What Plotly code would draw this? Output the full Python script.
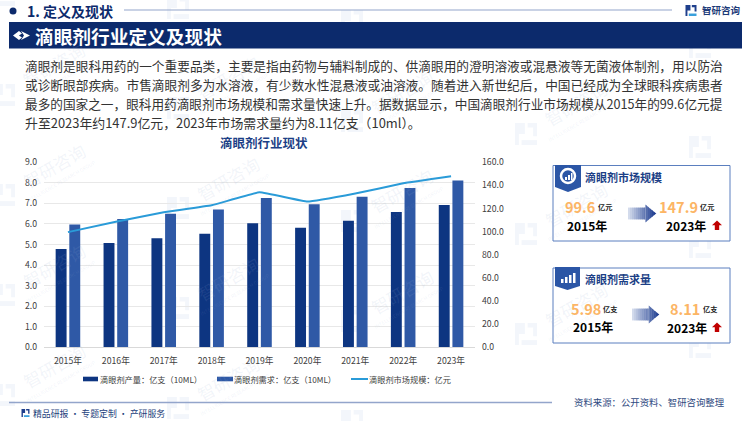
import plotly.graph_objects as go

years = ["2015年", "2016年", "2017年", "2018年", "2019年", "2020年", "2021年", "2022年", "2023年"]
production = [4.78, 5.07, 5.30, 5.53, 6.03, 5.82, 6.16, 6.58, 6.92]
demand = [5.98, 6.24, 6.50, 6.70, 7.26, 6.96, 7.33, 7.75, 8.11]
market = [99.6, 108.6, 116.8, 122.8, 134.0, 126.0, 133.0, 141.8, 147.9]
left_ticks = [0, 1, 2, 3, 4, 5, 6, 7, 8, 9]
right_ticks = [0, 20, 40, 60, 80, 100, 120, 140, 160]
name_production = "滴眼剂产量：亿支（10ML）"
name_demand = "滴眼剂需求：亿支（10ML）"
name_market = "滴眼剂市场规模：亿元"
body_lines = [
    "滴眼剂是眼科用药的一个重要品类，主要是指由药物与辅料制成的、供滴眼用的澄明溶液或混悬液等无菌液体制剂，用以防治",
    "或诊断眼部疾病。市售滴眼剂多为水溶液，有少数水性混悬液或油溶液。随着进入新世纪后，中国已经成为全球眼科疾病患者",
    "最多的国家之一，眼科用药滴眼剂市场规模和需求量快速上升。据数据显示，中国滴眼剂行业市场规模从2015年的99.6亿元提",
    "升至2023年约147.9亿元，2023年市场需求量约为8.11亿支（10ml）。",
]

W, H = 750, 421
FONT = "Noto Sans CJK SC"
NAVY = "#0c2a6c"
BAR1 = "#0d3581"
BAR2 = "#2f59a6"
LINE = "#2a9bd8"
ORANGE = "#fcb565"
FRAME = "#5b7fbf"
RULE = "#93a5cb"


def fx(px):
    return px / W


def fy(py):
    return 1 - py / H


shapes = []
annotations = []


def text(x, y, s, size, color="#333333", bold=False, anchor="left", angle=0, font=FONT):
    annotations.append(dict(
        x=fx(x), y=fy(y), xref="paper", yref="paper", showarrow=False,
        text=f"<b>{s}</b>" if bold else s, xanchor=anchor, yanchor="middle",
        textangle=angle, align="left", borderpad=0, borderwidth=0,
        font=dict(family=font, size=size, color=color),
    ))


def poly(points, color, layer="above", line=None):
    path = "M" + " L".join(f"{fx(x):.5f},{fy(y):.5f}" for x, y in points) + " Z"
    shapes.append(dict(type="path", path=path, xref="paper", yref="paper",
                       fillcolor=color, line=dict(width=0) if line is None else line, layer=layer))


def rect(x0, y0, x1, y1, fill=None, line_color=None, lw=1, layer="above"):
    shapes.append(dict(type="rect", xref="paper", yref="paper", x0=fx(x0), x1=fx(x1),
                       y0=fy(y0), y1=fy(y1), fillcolor=fill or "rgba(0,0,0,0)",
                       line=dict(color=line_color, width=lw) if line_color else dict(width=0),
                       layer=layer))


def hline(x0, x1, y, color, lw):
    shapes.append(dict(type="line", xref="paper", yref="paper", x0=fx(x0), x1=fx(x1),
                       y0=fy(y), y1=fy(y), line=dict(color=color, width=lw)))


def logo(cx, cy, s, c1, c2, layer="above"):
    """Bracket-shaped brand mark, unrotated."""
    poly([(cx - s, cy - s), (cx - 0.1 * s, cy - s), (cx - 0.1 * s, cy), (cx - 0.65 * s, cy),
          (cx - 0.65 * s, cy + s), (cx - s, cy + s)], c1, layer)
    poly([(cx + 0.15 * s, cy - s), (cx + s, cy - s), (cx + s, cy + 0.2 * s), (cx + 0.65 * s, cy + 0.2 * s),
          (cx + 0.65 * s, cy - 0.6 * s), (cx + 0.15 * s, cy - 0.6 * s)], c1, layer)
    poly([(cx - 0.4 * s, cy + 0.55 * s), (cx + s, cy + 0.55 * s), (cx + s, cy + s), (cx - 0.4 * s, cy + s)], c2, layer)


def arrow(x0, x1, cy, h):
    head = x0 + (x1 - x0) * 0.62
    n = 14

    def half(x):
        if x <= head:
            return h * 0.33
        return max(h * 0.5 * (x1 - x) / (x1 - head), 0)

    for i in range(n):
        a = x0 + (x1 - x0) * i / n
        b = x0 + (x1 - x0) * (i + 1) / n + 0.3
        t = (i + 1) / n
        c = f"rgb({int(225 - t * 195)},{int(232 - t * 172)},{int(244 - t * 100)})"
        if a < head < b:
            poly([(a, cy - half(a)), (head, cy - half(a)), (head, cy + half(a)), (a, cy + half(a))], c)
            a = head
        poly([(a, cy - (h * 0.5 if a == head else half(a))),
              (b, cy - half(b)), (b, cy + half(b)),
              (a, cy + (h * 0.5 if a == head else half(a)))], c)


def up_arrow(cx, top, bottom):
    c = "#c00000"
    mid = top + (bottom - top) * 0.5
    poly([(cx, top), (cx + 5, mid), (cx + 2.2, mid), (cx + 2.2, bottom), (cx - 2.2, bottom),
          (cx - 2.2, mid), (cx - 5, mid)], c)


# watermark grid
for col in range(5):
    for row in range(5):
        wx = 70 + 174 * col - 16
        wy = -35 + 100 * row + 13 * col
        logo(wx - 50, wy + 30, 11, "rgba(190,205,232,0.18)", "rgba(190,205,232,0.18)", layer="below")
        if wx - 42 >= 0 and wx + 46 <= W and wy - 26 >= 0 and wy + 40 <= H:
            text(wx, wy, "智研咨询", 17, color="rgba(150,170,210,0.13)", anchor="center", angle=-30)
            text(wx + 6, wy + 16, "INTELLIGENCE RESEARCH GROUP", 5, color="rgba(150,170,210,0.15)",
                 anchor="center", angle=-30)

# header
shapes.append(dict(type="circle", xref="paper", yref="paper", x0=fx(9.5), x1=fx(16.5), y0=fy(14.5), y1=fy(7.5),
                   fillcolor=NAVY, line=dict(width=0)))
text(27, 11.5, "1. 定义及现状", 14, color=NAVY, bold=True)
hline(124, 672, 10, RULE, 1)
logo(691, 10.5, 5.5, "#1f3f8c", "#3aa0dc")
text(702, 10, "智研咨询", 9.5, color="#1d3a78", bold=True)

# banner
rect(9, 22, 742, 48.5, fill=NAVY)
poly([(13, 35.5), (19, 31), (22, 33.5), (19, 35.5), (22, 37.5), (19, 40)], "white")
poly([(21, 31), (30, 35.5), (21, 40), (24, 35.5)], "white")
text(35, 35.5, "滴眼剂行业定义及现状", 18.7, color="white", bold=True)

# body text
for line_y, line_text, size in zip([66, 84.5, 103, 122], body_lines, [12.7, 12.7, 12.65, 12.9]):
    text(25, line_y, line_text, size, color="#333333")

# chart title
text(263.5, 142, "滴眼剂行业现状", 12.5, color="#1c3f86", bold=True, anchor="center")

# hand-placed legend row matching the reference's wide keys
LEG_Y = 379
rect(83, LEG_Y - 2.3, 98, LEG_Y + 2.3, fill=BAR1)
text(99.5, LEG_Y, name_production, 8.2, color="#404040")
rect(217, LEG_Y - 2.3, 233, LEG_Y + 2.3, fill=BAR2)
text(234, LEG_Y, name_demand, 8.2, color="#404040")
hline(351, 368, LEG_Y, LINE, 2)
text(369, LEG_Y, name_market, 8.2, color="#404040")

# bottom strip
hline(9, 552, 402.5, RULE, 1.5)
logo(25.5, 413, 4, "#1f3f8c", "#3aa0dc")
text(33, 413, "精品研报 · 专题定制 · 产研服务", 8.9, color="#1d3f7c")
text(574, 402, "资料来源：公开资料、智研咨询整理", 9.4, color="#2f4a7f")

# card 1
rect(553, 165.5, 730, 241, fill="white", line_color=FRAME, lw=1)
poly([(555, 165), (581, 165), (581, 187), (568, 192), (555, 187)], "#2b56a6")
shapes.append(dict(type="circle", xref="paper", yref="paper", x0=fx(561), x1=fx(575), y0=fy(183), y1=fy(169),
                   fillcolor="rgba(0,0,0,0)", line=dict(color="white", width=2.5)))
rect(565, 177, 567, 180, fill="white")
rect(568, 175, 570, 180, fill="white")
rect(571, 173, 572.5, 180, fill="white")
text(585, 177, "滴眼剂市场规模", 11, color="#1c3f86", bold=True)
text(565, 206, "99.6", 14.5, color=ORANGE, bold=True)
text(598, 207, "亿元", 7.2, color="#222222", bold=True)
text(567, 225, "2015年", 12, color="#000000", bold=True)
arrow(628, 656, 213.5, 18)
text(659, 206, "147.9", 14.5, color=ORANGE, bold=True)
text(700, 207, "亿元", 7.2, color="#222222", bold=True)
text(666, 225, "2023年", 12, color="#000000", bold=True)
up_arrow(717, 220.5, 230)

# card 2
rect(553, 268, 730, 343, fill="white", line_color=FRAME, lw=1)
poly([(555, 267), (580, 267), (580, 286), (567.5, 290), (555, 286)], "#2b56a6")
rect(561, 279, 563.5, 283, fill="white")
rect(565, 277, 567.5, 283, fill="white")
rect(569, 275, 571.5, 283, fill="white")
rect(573, 273, 575.5, 283, fill="white")
text(585, 279, "滴眼剂需求量", 11, color="#1c3f86", bold=True)
text(571, 308, "5.98", 14.5, color=ORANGE, bold=True)
text(603, 309, "亿支", 7.2, color="#222222", bold=True)
text(573, 326, "2015年", 12, color="#000000", bold=True)
arrow(632, 659, 314.5, 18)
text(670, 308, "8.11", 14.5, color=ORANGE, bold=True)
text(703, 309, "亿支", 7.2, color="#222222", bold=True)
text(667, 327, "2023年", 12, color="#000000", bold=True)
up_arrow(717, 322.5, 332)

fig = go.Figure()
fig.add_trace(go.Bar(x=years, y=production, marker=dict(color=BAR1, line=dict(width=0)), name=name_production))
fig.add_trace(go.Bar(x=years, y=demand, marker=dict(color=BAR2, line=dict(width=0)), name=name_demand))
fig.add_trace(go.Scatter(x=years, y=market, yaxis="y2", mode="lines",
                         line=dict(color=LINE, width=2, shape="spline", smoothing=0.25),
                         name=name_market))

tick_font = dict(family=FONT, size=8.7, color="#404040")
fig.update_layout(
    width=W, height=H, autosize=False,
    margin=dict(l=0, r=0, t=0, b=0, autoexpand=False),
    paper_bgcolor="white", plot_bgcolor="rgba(0,0,0,0)",
    barmode="group", bargap=0.43, bargroupgap=0.2,
    font=dict(family=FONT), showlegend=False,
    xaxis=dict(domain=[fx(44), fx(475)], tickfont=tick_font, showgrid=False, showline=True,
               linecolor="#d9d9d9", linewidth=1, ticks="", ticklabelstandoff=5, fixedrange=True),
    yaxis=dict(range=[0, 9], tickvals=left_ticks, ticktext=[f"{v:.1f}" for v in left_ticks],
               domain=[fy(347.3), fy(162.3)], tickfont=tick_font, showgrid=True, gridcolor="#e8e8e8",
               gridwidth=1, zeroline=False, ticks="", ticklabelstandoff=6),
    yaxis2=dict(range=[0, 160], tickvals=right_ticks, ticktext=[f"{v:.1f}" for v in right_ticks],
                overlaying="y", side="right", anchor="x", tickfont=tick_font, showgrid=False,
                zeroline=False, ticks="", ticklabelstandoff=6),
    shapes=shapes, annotations=annotations,
)

fig.write_html("out.html", post_script="document.body.style.margin='0';document.body.style.overflow='hidden';",
               config=dict(displayModeBar=False))
